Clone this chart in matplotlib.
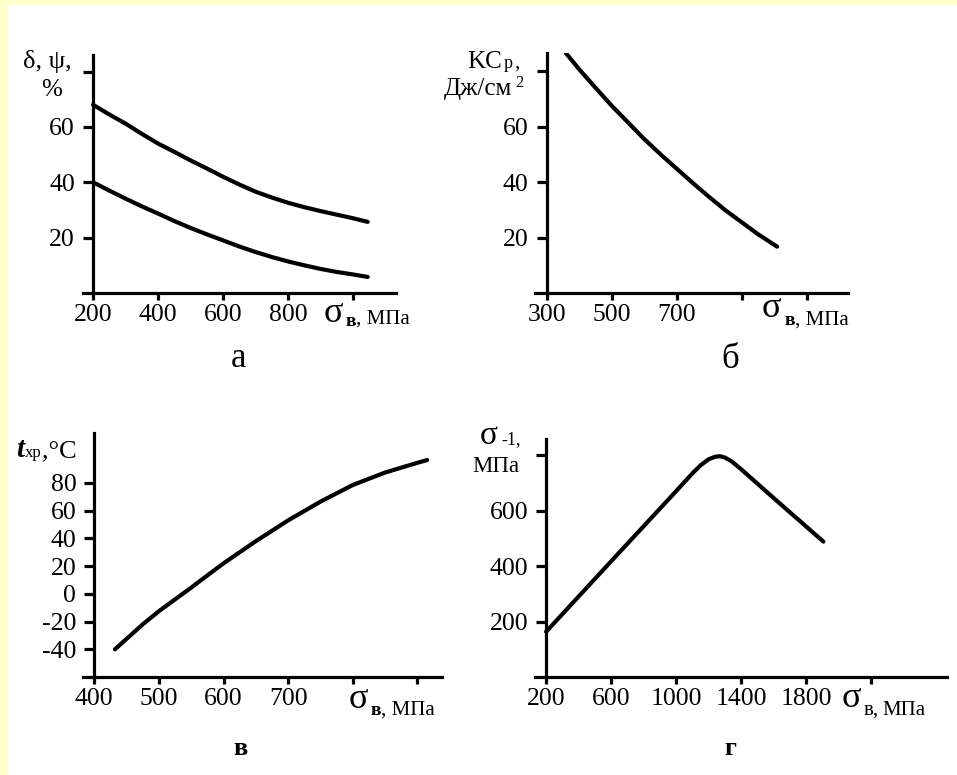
import matplotlib
matplotlib.use('Agg')
import matplotlib.pyplot as plt
from matplotlib.patches import Rectangle

W, H = 957, 775
plt.rcParams['font.family'] = ['Liberation Serif', 'DejaVu Serif']

# ---- data ----
# panel а : δ, ψ vs σв
a_sigma = [200, 250, 300, 350, 400, 450, 500, 550, 600, 650, 700, 750, 800, 850, 900, 950, 1000, 1045]
a_psi = [68, 64.5, 61.2, 57.5, 54, 51, 47.9, 45, 42, 39.2, 36.6, 34.5, 32.6, 31, 29.6, 28.3, 27, 25.7]
a_delta = [40, 37, 34.1, 31.3, 28.7, 26, 23.5, 21.2, 19, 16.8, 14.8, 13, 11.4, 10, 8.7, 7.6, 6.7, 5.8]
a_xticks = [200, 400, 600, 800, 1000]
a_xlabels = ['200', '400', '600', '800', '']
a_yticks = [20, 40, 60, 80]
a_ylabels = ['20', '40', '60', '']

# panel б : KCp vs σв
b_sigma = [359, 400, 450, 500, 550, 600, 650, 700, 750, 800, 850, 900, 950, 1009]
b_kcp = [86.5, 80.6, 74, 67.5, 61.5, 55.5, 50, 44.8, 39.6, 34.6, 29.8, 25.5, 21.2, 16.7]
b_xticks = [300, 500, 700, 900, 1100]
b_xlabels = ['300', '500', '700', '', '']
b_yticks = [20, 40, 60, 80]
b_ylabels = ['20', '40', '60', '']

# panel в : t_хр vs σв
c_sigma = [432, 475, 500, 525, 550, 575, 600, 650, 700, 750, 800, 850, 900, 915]
c_t = [-40, -22, -12.5, -4, 4.5, 13.3, 22, 38, 53, 66.5, 78.5, 87.5, 94.5, 96.5]
c_xticks = [400, 500, 600, 700, 800, 900]
c_xlabels = ['400', '500', '600', '700', '', '']
c_yticks = [-40, -20, 0, 20, 40, 60, 80]
c_ylabels = ['-40', '-20', '0', '20', '40', '60', '80']

# panel г : σ-1 vs σв
d_sigma = [200, 600, 1000, 1100, 1150, 1200, 1240, 1270, 1300, 1340, 1400, 1600, 1906]
d_s1 = [163, 417, 670, 734, 763, 785, 794, 796, 791, 778, 749, 645, 488]
d_xticks = [200, 600, 1000, 1400, 1800, 2200]
d_xlabels = ['200', '600', '1000', '1400', '1800', '']
d_yticks = [200, 400, 600, 800]
d_ylabels = ['200', '400', '600', '']

# ---- figure ----
fig = plt.figure(figsize=(W / 100, H / 100), dpi=100)
fig.patch.set_facecolor('white')
yellow = '#ffffcc'
fig.patches.append(Rectangle((0, 1 - 5 / H), 1, 5 / H, transform=fig.transFigure,
                             facecolor=yellow, edgecolor='none', zorder=0))
fig.patches.append(Rectangle((0, 0), 8 / W, 1, transform=fig.transFigure,
                             facecolor=yellow, edgecolor='none', zorder=0))
renderer = fig.canvas.get_renderer()


def box(l, t, r, b):
    return [l / W, 1 - b / H, (r - l) / W, (b - t) / H]


TICK = 18.5


def setup(ax, xlim, ylim, x0, xt, xl, yt, yl):
    ax.set_xlim(xlim)
    ax.set_ylim(ylim)
    ax.patch.set_alpha(0)
    for s in ['top', 'right']:
        ax.spines[s].set_visible(False)
    ax.spines['left'].set_position(('data', x0))
    for s in ['left', 'bottom']:
        ax.spines[s].set_linewidth(2.3)
    ax.set_xticks(xt, xl)
    ax.set_yticks(yt, yl)
    ax.tick_params(axis='x', length=5, width=2.3, pad=3, labelsize=TICK, colors='black')
    ax.tick_params(axis='y', length=7, width=2.3, pad=6, labelsize=TICK, colors='black')


def chain(x, y, parts):
    """Place text pieces one after another; x,y in pixels (top-left origin), y = baseline."""
    cx = x
    for s, size, dy, gap, kw in parts:
        t = fig.text(cx / W, 1 - (y + dy) / H, s, fontsize=size, va='baseline', ha='left', **kw)
        bb = t.get_window_extent(renderer)
        cx = cx + bb.width + gap


def ftext(x, y, s, size, **kw):
    fig.text(x / W, 1 - y / H, s, fontsize=size, va='baseline', ha=kw.pop('ha', 'left'), **kw)


LW = 3.0
B = {'weight': 'bold'}
N = {}

# а
ax = fig.add_axes(box(83, 55, 396, 293))
setup(ax, (169, 1132), (0, 86), 200, a_xticks, a_xlabels, a_yticks, a_ylabels)
ax.plot(a_sigma, a_psi, color='black', lw=LW, solid_capstyle='round')
ax.plot(a_sigma, a_delta, color='black', lw=LW, solid_capstyle='round')

# б
ax = fig.add_axes(box(535, 53, 848, 293))
setup(ax, (264, 1227), (0, 86.5), 300, b_xticks, b_xlabels, b_yticks, b_ylabels)
ax.plot(b_sigma, b_kcp, color='black', lw=LW, solid_capstyle='round')

# в
ax = fig.add_axes(box(83, 433, 442, 677))
setup(ax, (382.5, 938), (-60, 116), 400, c_xticks, c_xlabels, c_yticks, c_ylabels)
ax.plot(c_sigma, c_t, color='black', lw=LW, solid_capstyle='round')

# г
ax = fig.add_axes(box(535, 439, 947, 677))
setup(ax, (132, 2666), (0, 858), 200, d_xticks, d_xlabels, d_yticks, d_ylabels)
ax.plot(d_sigma, d_s1, color='black', lw=LW, solid_capstyle='round')

# ---- axis labels ----
# а
chain(23, 68, [('δ, ψ,', 19, 0, 0, N)])
ftext(52, 96, '%', 18, ha='center')
chain(324, 322, [('σ', 26, 0, 2, N), ('в', 14, 4, 0, B), (', МПа', 15, 2, 0, N)])
# б
chain(467, 68, [('KC', 18, 0, 2, N), ('p', 13, 0, 1, N), (',', 15, 0, 0, N)])
chain(444, 95, [('Дж/см', 18, 0, 3, N), ('2', 12, -8, 0, N)])
chain(762, 317, [('σ', 26, 0, 3, N), ('в', 14, 8, 0, B), (', МПа', 15, 8, 0, N)])
# в
chain(16, 457, [('t', 21, 0, 1, {'style': 'italic', 'weight': 'bold'}), ('хр', 12, 0, 0, N),
                (',°C', 19, 0, 0, N)])
chain(349, 708, [('σ', 26, 0, 2, N), ('в', 14, 7, 0, B), (', МПа', 15, 7, 0, N)])
# г
chain(480, 444, [('σ', 24, 0, 3, N), ('-1,', 13, 0, 0, N)])
ftext(472, 472, 'МПа', 16.5)
chain(842, 707, [('σ', 26, 0, 2, N), ('в,', 15, 8, 4, N), ('МПа', 15, 8, 0, N)])

# ---- panel letters ----
ftext(238, 367, 'а', 25, ha='center')
ftext(730, 368, 'б', 25, ha='center')
ftext(240, 755, 'в', 19, ha='center', weight='bold')
ftext(730, 755, 'г', 19, ha='center', weight='bold')

fig.savefig('out.png', dpi=100, facecolor=fig.get_facecolor())
